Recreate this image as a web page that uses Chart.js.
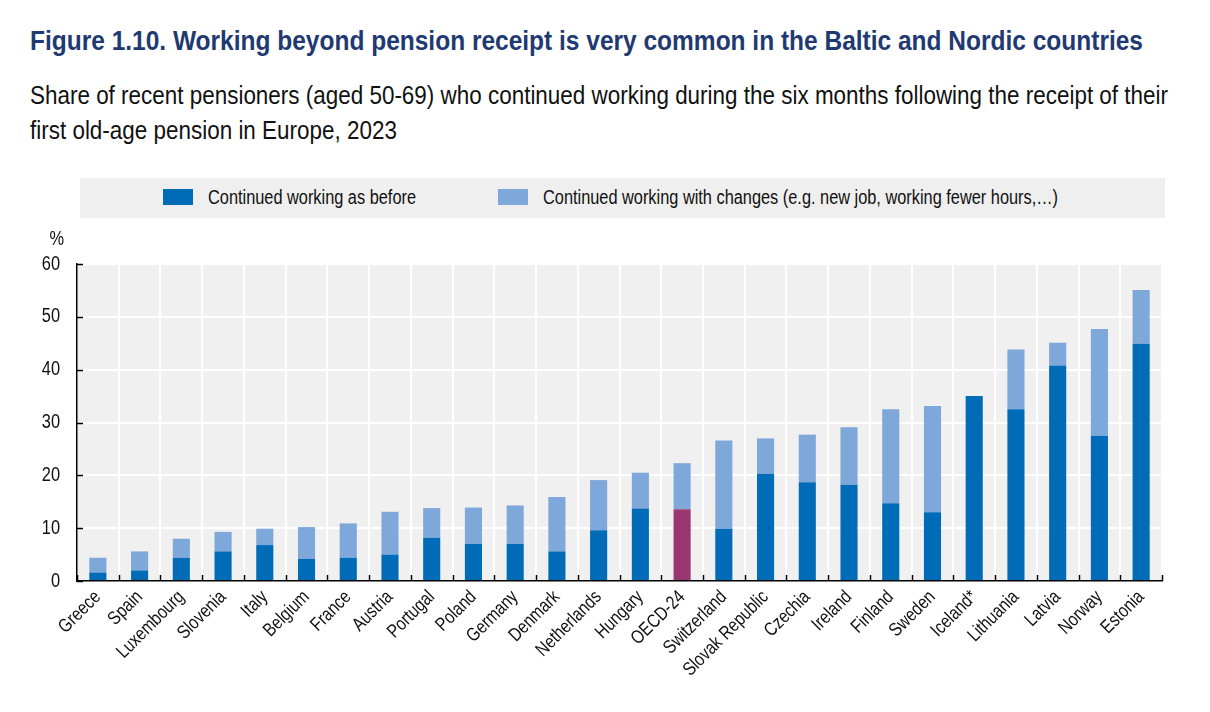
<!DOCTYPE html>
<html><head><meta charset="utf-8">
<script src="https://cdn.jsdelivr.net/npm/chart.js@4.4.1/dist/chart.umd.min.js"></script>
<style>
html,body{margin:0;padding:0;background:#fff;width:1210px;height:712px;overflow:hidden;font-family:"Liberation Sans Narrow","Arial Narrow","Liberation Sans",Arial,sans-serif;}
.fit{position:absolute;white-space:nowrap;transform-origin:0 0;display:inline-block;}
#title{left:30px;top:27px;font-weight:bold;font-size:28px;line-height:28px;color:#1f3a72;}
.sub{left:30px;font-size:25px;line-height:25px;color:#111;}
#legend{position:absolute;left:80px;top:178px;width:1085px;height:40px;background:#efefef;}
.sw{position:absolute;top:11px;width:30px;height:16px;}
.lt{top:9px;font-size:20px;line-height:20px;color:#111;}
#wrap{position:absolute;left:0;top:0;width:1210px;height:712px;}
</style>
</head><body>
<div id="title" class="fit" data-w="1113">Figure 1.10. Working beyond pension receipt is very common in the Baltic and Nordic countries</div>
<div id="sub1" class="fit sub" data-w="1138" style="top:83px">Share of recent pensioners (aged 50-69) who continued working during the six months following the receipt of their</div>
<div id="sub2" class="fit sub" data-ref="sub1" style="top:118px">first old-age pension in Europe, 2023</div>
<div id="legend"></div>
<div id="wrap"><canvas id="c" width="1210" height="712"></canvas></div>
<script>
const categories = ["Greece","Spain","Luxembourg","Slovenia","Italy","Belgium","France","Austria","Portugal","Poland","Germany","Denmark","Netherlands","Hungary","OECD-24","Switzerland","Slovak Republic","Czechia","Ireland","Finland","Sweden","Iceland*","Lithuania","Latvia","Norway","Estonia"];
const asBefore = [1.6,2.0,4.4,5.6,6.8,4.2,4.4,5.0,8.2,7.0,7.0,5.6,9.6,13.7,13.6,9.9,20.3,18.7,18.2,14.7,13.0,35.0,32.5,40.8,27.5,44.9];
const withChanges = [2.8,3.6,3.6,3.7,3.1,6.0,6.5,8.1,5.6,6.9,7.3,10.3,9.5,6.8,8.7,16.7,6.7,9.0,10.9,17.8,20.1,0,11.3,4.3,20.2,10.2];
const seriesNames = ["Continued working as before","Continued working with changes (e.g. new job, working fewer hours,\u2026)"];
const yTicks = [0,10,20,30,40,50,60];
const highlight = "OECD-24";

const DARK = "#006bb6", LIGHT = "#7ea7da", HIGH = "#993870";
const FONT = '"Liberation Sans Narrow","Arial Narrow","Liberation Sans",Arial,sans-serif';
const NARROW = 0.82;
Chart.defaults.font.family = FONT;
Chart.defaults.color = "#111";

// condense canvas text (narrow typeface of the original)
const narrowText = {
  id: "narrowText",
  beforeDraw(chart) {
    const ctx = chart.ctx;
    if (ctx._origFill) return;
    ctx._origFill = ctx.fillText;
    ctx.fillText = function (t, x, y, mw) {
      this.save(); this.scale(NARROW, 1);
      this._origFill(t, x / NARROW, y);
      this.restore();
    };
  }
};

const plotBg = {
  id: "plotBg",
  beforeDraw(chart) {
    const {ctx, chartArea: a} = chart;
    ctx.save(); ctx.fillStyle = "#f0f0f0";
    ctx.fillRect(a.left, a.top, a.right - a.left, a.bottom - a.top);
    ctx.restore();
  },
  afterDraw(chart) {
    const {ctx, chartArea: a, scales: {x, y}} = chart;
    ctx.save();
    ctx.strokeStyle = "#000"; ctx.lineWidth = 1.5;
    ctx.beginPath();
    const n = categories.length;
    for (let i = 0; i <= n; i++) {
      let px;
      if (i === 0) px = a.left; else if (i === n) px = a.right;
      else px = (x.getPixelForTick(i - 1) + x.getPixelForTick(i)) / 2;
      ctx.moveTo(Math.round(px) + 0.5, a.bottom); ctx.lineTo(Math.round(px) + 0.5, a.bottom - 6);
    }
    yTicks.forEach(v => {
      const py = Math.round(y.getPixelForValue(v)) + 0.5;
      ctx.moveTo(a.left, py); ctx.lineTo(a.left + 6, py);
    });
    ctx.stroke();
    ctx.fillStyle = "#111"; ctx.font = "20px " + FONT;
    ctx.textAlign = "right"; ctx.textBaseline = "middle";
    ctx.fillText("%", a.left - 13, a.top - 25);
    ctx.restore();
  }
};

const chart = new Chart(document.getElementById("c"), {
  type: "bar",
  data: {
    labels: categories,
    datasets: [
      {label: seriesNames[0], data: asBefore, backgroundColor: categories.map(c => c === highlight ? HIGH : DARK), legendColor: DARK},
      {label: seriesNames[1], data: withChanges, backgroundColor: LIGHT, legendColor: LIGHT}
    ]
  },
  options: {
    responsive: false, animation: false,
    layout: {padding: {top: 264, left: 0, right: 48, bottom: 0}},
    datasets: {bar: {categoryPercentage: 1, barPercentage: 0.41}},
    plugins: {legend: {display: false}, tooltip: {enabled: false}},
    scales: {
      x: {
        stacked: true,
        grid: {color: "#ffffff", lineWidth: 2, drawTicks: false, offset: true},
        border: {display: true, color: "#000", width: 1.5},
        ticks: {font: {size: 19}, color: "#111", maxRotation: 45, minRotation: 45, padding: 5, autoSkip: false},
        afterFit(s) { s.height = 131; }
      },
      y: {
        stacked: true, min: 0, max: 60,
        grid: {color: "#ffffff", lineWidth: 2, drawTicks: false},
        border: {display: true, color: "#000", width: 1.5},
        ticks: {font: {size: 20}, color: "#111", stepSize: 10, padding: 17},
        afterFit(s) { s.width = 77; }
      }
    }
  },
  plugins: [narrowText, plotBg]
});

// HTML legend built from the chart datasets
const leg = document.getElementById("legend");
const swLeft = [83, 418], txLeft = [128, 463], txW = [208, 515];
chart.data.datasets.forEach((ds, i) => {
  const sw = document.createElement("div");
  sw.className = "sw"; sw.style.left = swLeft[i] + "px"; sw.style.background = ds.legendColor;
  const tx = document.createElement("div");
  tx.className = "fit lt"; tx.style.left = txLeft[i] + "px"; tx.dataset.w = txW[i];
  tx.textContent = ds.label;
  leg.appendChild(sw); leg.appendChild(tx);
});

// condense HTML text horizontally to match the narrow typeface of the original
const scales = {};
document.querySelectorAll(".fit").forEach(el => {
  const w = el.getBoundingClientRect().width;
  let s;
  if (el.dataset.w) s = +el.dataset.w / w;
  else s = scales[el.dataset.ref];
  if (el.id) scales[el.id] = s;
  el.style.transform = "scaleX(" + s + ")";
});
</script>
</body></html>
